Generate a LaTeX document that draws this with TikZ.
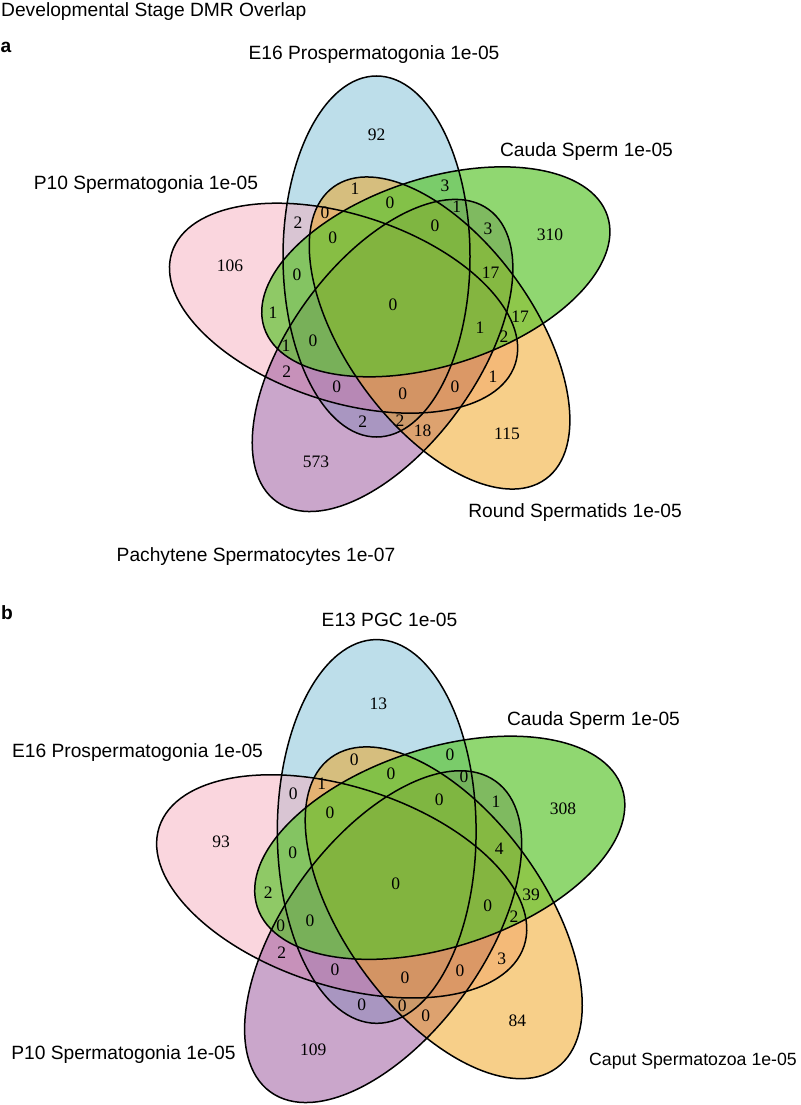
\documentclass[tikz,border=0pt]{standalone}
\usepackage{fontspec}
\setmainfont{Liberation Serif}
\newfontfamily\sansfont{Liberation Sans}
\usetikzlibrary{positioning}
\definecolor{setblue}{RGB}{123,189,213}
\definecolor{setpink}{RGB}{245,173,189}
\definecolor{setpurple}{RGB}{150,78,152}
\definecolor{setorange}{RGB}{240,160,20}
\definecolor{setgreen}{RGB}{92,196,46}
\tikzset{
  catlabel/.style={font=\sansfont\fontsize{19.2}{23}\selectfont, inner sep=0pt, anchor=base},
  countlabel/.style={font=\fontsize{17.5}{20}\selectfont, inner sep=0pt},
  panellabel/.style={font=\sansfont\bfseries\fontsize{19.2}{23}\selectfont, inner sep=0pt},
  vennfill/.style={fill opacity=0.5},
  vennline/.style={draw=black, line width=1.5pt},
}
% one ellipse of the five-set layout, turned by #1 round the centre
\newcommand{\vennellipse}[2]{%
  \path[#2, rotate around={#1:(0,0)}] (-19.1,-48.5) ellipse [x radius=93.5, y radius=180.5];}
% all five sets: fills first, outlines on top
\newcommand{\vennfive}{%
  \vennellipse{0}{fill=setblue, vennfill}
  \vennellipse{72}{fill=setpink, vennfill}
  \vennellipse{144}{fill=setpurple, vennfill}
  \vennellipse{-144}{fill=setorange, vennfill}
  \vennellipse{-72}{fill=setgreen, fill opacity=0.68}
  \foreach \r in {0,72,144,-144,-72} {\vennellipse{\r}{vennline}}}

\begin{document}
\begin{tikzpicture}[x=1pt, y=-1pt]
  \useasboundingbox (0,0) rectangle (800,1105);
  \node[catlabel, anchor=base west] (title) at (1,17) {Developmental Stage DMR Overlap};

  % Panel a
  \node[panellabel] (pa) at (6,47) {a};
  \begin{scope}[shift={(395.6,305)}]
    \vennfive
  \end{scope}
  \node[catlabel] (aE16) at (374,60) {E16 Prospermatogonia 1e-05};
  \node[catlabel] (aP10) at (146,189) {P10 Spermatogonia 1e-05};
  \node[catlabel] (aCauda) at (586.5,157) {Cauda Sperm 1e-05};
  \node[catlabel] (aRound) at (575,517) {Round Spermatids 1e-05};
  \node[catlabel] (aPachy) at (256,561) {Pachytene Spermatocytes 1e-07};
  \foreach \x/\y/\n [count=\i] in {376.7/135/92, 355/189/1, 445/186/3, 390/203/0,
      456.7/207/1, 325/212.7/0, 298/222.7/2, 435/226/0, 488/229/3, 332.7/238/0,
      550/235/310, 297/275/0, 490.7/272.7/17, 393/305/0, 273/313/1, 313/341/0,
      480/328/1, 520/317/17, 504/337/2, 286/346/1, 286.7/371.7/2, 336.7/387/0,
      402.7/394/0, 455/387/0, 493/376.7/1, 362.7/421.7/2, 400/420.7/2,
      422.7/430.7/18, 316/462/573, 507/434/115, 230/266/106}
    \node[countlabel] (acount\i) at (\x,\y) {\n};

  % Panel b
  \node[panellabel] (pb) at (7,613) {b};
  \begin{scope}[shift={(397,883)}, scale=1.063]
    \vennfive
  \end{scope}
  \node[catlabel] (bE13) at (389.5,626) {E13 PGC 1e-05};
  \node[catlabel] (bE16) at (137.5,757) {E16 Prospermatogonia 1e-05};
  \node[catlabel] (bCauda) at (593.5,725) {Cauda Sperm 1e-05};
  \node[catlabel] (bP10) at (123.5,1059) {P10 Spermatogonia 1e-05};
  \node[catlabel, font=\sansfont\fontsize{17.7}{21}\selectfont] (bCaput) at (693,1065) {Caput Spermatozoa 1e-05};
  \foreach \x/\y/\n [count=\i] in {378.3/703.3/13, 354.3/760/0, 450/755/0,
      391/773.5/0, 464/777/0, 321.7/784/1, 293.3/793.3/0, 439.3/799.3/0,
      496/801.7/1, 330/812.7/0, 563/809/308, 292.7/852.7/0, 499.3/848.3/4,
      395.7/883.3/0, 268.3/892.7/2, 310/920.7/0, 487.7/905.7/0, 531/895/39,
      514/916.7/2, 280.7/926/0, 281.7/952.7/2, 335/970/0, 405/977.3/0,
      460/970.7/0, 501.7/958.3/3, 361.7/1005/0, 402.3/1006/0, 425.7/1016/0,
      313.3/1049.3/109, 517.3/1021/84, 221/841.5/93}
    \node[countlabel] (bcount\i) at (\x,\y) {\n};
\end{tikzpicture}
\end{document}
